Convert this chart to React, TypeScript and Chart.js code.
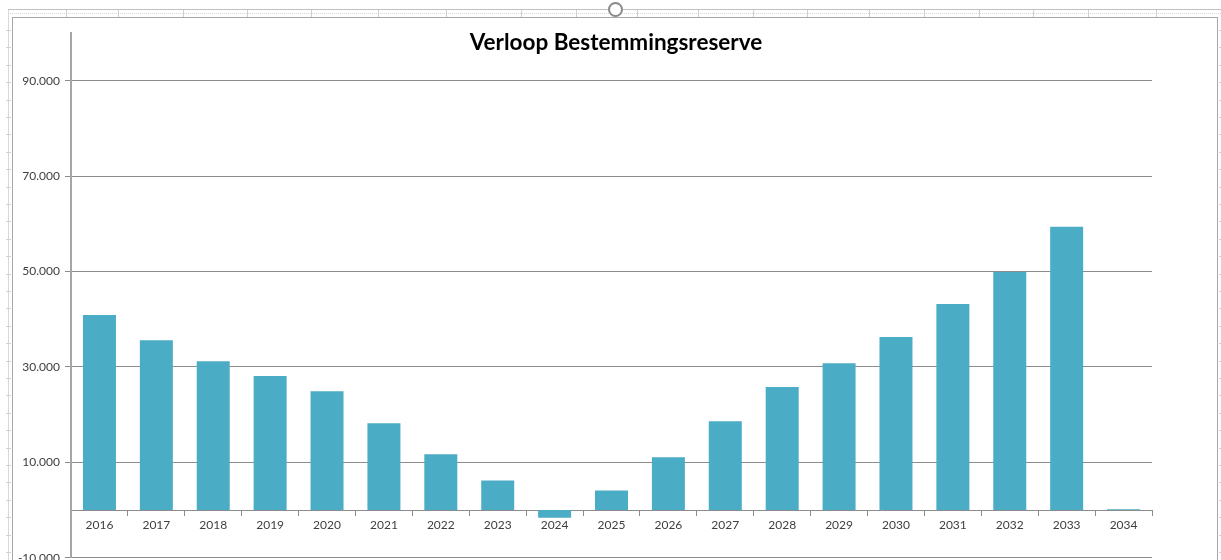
import React, { useEffect, useRef } from 'react';
import { Chart, registerables } from 'chart.js';

Chart.register(...registerables);

const categories = ['2016', '2017', '2018', '2019', '2020', '2021', '2022', '2023', '2024', '2025', '2026', '2027', '2028', '2029', '2030', '2031', '2032', '2033', '2034'];
const reserveValues = [40900, 35600, 31200, 28100, 24900, 18200, 11700, 6200, -1600, 4100, 11100, 18600, 25800, 30800, 36300, 43200, 49900, 59400, 200];
const yTickValues = [-10000, 10000, 30000, 50000, 70000, 90000];
const yMin = -10000;
const yMax = 100000;
const chartTitle = 'Verloop Bestemmingsreserve';

const columnLines = [66, 118, 183, 247, 311, 378, 446, 521, 576, 637, 698, 753, 807, 869, 924, 979, 1033, 1088, 1156];
const rowLines = Array.from({ length: 31 }, (_, i) => 30 + i * 17.4);

function formatNl(v: number): string {
  const s = Math.abs(v).toString().replace(/\B(?=(\d{3})+(?!\d))/g, '.');
  return (v < 0 ? '-' : '') + s;
}

export default function App() {
  const canvasRef = useRef<HTMLCanvasElement | null>(null);

  useEffect(() => {
    if (!canvasRef.current) return;
    const chart = new Chart(canvasRef.current, {
      type: 'bar',
      data: {
        labels: categories,
        datasets: [
          {
            label: 'Bestemmingsreserve',
            data: reserveValues,
            backgroundColor: '#4BACC6',
            borderWidth: 0,
            barPercentage: 0.58,
            categoryPercentage: 1,
          },
        ],
      },
      options: {
        animation: false,
        responsive: false,
        maintainAspectRatio: false,
        layout: { padding: { left: 0, top: 33, right: 69, bottom: 5 } },
        plugins: {
          legend: { display: false },
          title: { display: false },
          tooltip: { enabled: false },
        },
        scales: {
          x: {
            type: 'category',
            position: { y: 0 },
            grid: {
              offset: true,
              drawOnChartArea: false,
              drawTicks: true,
              tickLength: 5,
              color: '#8c8c8c',
            },
            border: { display: true, color: '#8c8c8c', width: 1 },
            ticks: {
              color: '#404040',
              font: { family: 'Lato', size: 12 },
              padding: 3,
              maxRotation: 0,
              autoSkip: false,
            },
          },
          y: {
            min: yMin,
            max: yMax,
            afterBuildTicks: (axis: any) => {
              axis.ticks = yTickValues.map((v) => ({ value: v }));
            },
            afterFit: (axis: any) => {
              axis.width = 71;
            },
            grid: {
              color: '#8c8c8c',
              tickLength: 6,
              drawTicks: true,
            },
            border: { display: true, color: '#a6a6a6', width: 2 },
            ticks: {
              color: '#404040',
              font: { family: 'Lato', size: 12 },
              padding: 5,
              callback: (v: any) => formatNl(Number(v)),
            },
          },
        },
      },
    });
    return () => chart.destroy();
  }, []);

  return (
    <div style={{ position: 'absolute', left: 0, top: 0, width: 1221, height: 560, overflow: 'hidden', background: '#ffffff' }}>
      {/* spreadsheet backdrop */}
      <div style={{ position: 'absolute', left: 8, top: 9, width: 1213, height: 1, background: '#c0c0c0' }} />
      <div style={{ position: 'absolute', left: 8, top: 13, width: 1213, height: 0, borderTop: '1px dotted #d8d8d8' }} />
      {columnLines.map((x) => (
        <div key={'c' + x} style={{ position: 'absolute', left: x, top: 10, width: 1, height: 7, background: '#d0d0d0' }} />
      ))}
      <div style={{ position: 'absolute', left: 8, top: 10, width: 1, height: 550, background: '#d8d8d8' }} />
      {rowLines.map((y) => (
        <div key={'l' + y} style={{ position: 'absolute', left: 6, top: Math.round(y), width: 5, height: 1, background: '#d0d0d0' }} />
      ))}
      {rowLines.map((y) => (
        <div key={'r' + y} style={{ position: 'absolute', left: 1219, top: Math.round(y), width: 2, height: 1, background: '#d0d0d0' }} />
      ))}
      {/* chart border */}
      <div style={{ position: 'absolute', left: 12, top: 17, width: 1204, height: 560, borderLeft: '1px solid #a8a8a8', borderTop: '1px solid #a8a8a8', borderRight: '1px solid #a8a8a8', boxSizing: 'content-box' }} />
      {/* selection handle */}
      <div style={{ position: 'absolute', left: 608, top: 2, width: 11, height: 11, borderRadius: '50%', border: '2px solid #8a8a8a', background: '#ffffff' }} />
      <canvas ref={canvasRef} width={1221} height={570} style={{ position: 'absolute', left: 0, top: 0, width: 1221, height: 570 }} />
      <div
        style={{
          position: 'absolute',
          left: 616,
          top: 30,
          transform: 'translateX(-50%)',
          fontFamily: 'Lato, sans-serif',
          fontWeight: 700,
          fontSize: 22.5,
          color: '#000000',
          whiteSpace: 'nowrap',
          lineHeight: '24px',
        }}
      >
        {chartTitle}
      </div>
    </div>
  );
}
